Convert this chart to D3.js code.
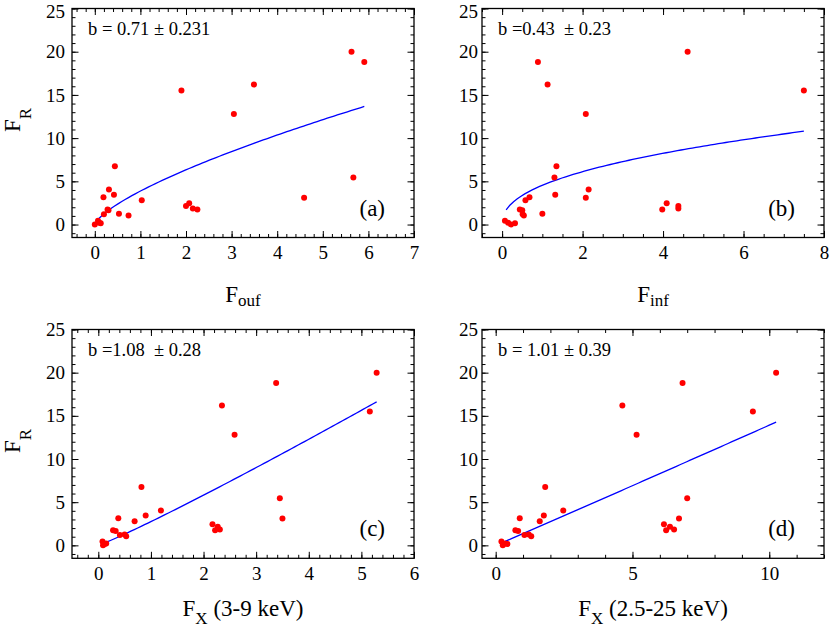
<!DOCTYPE html>
<html>
<head>
<meta charset="utf-8">
<script src="https://cdn.jsdelivr.net/npm/d3@7"></script>
<style>
  body { margin: 0; background: #fff; }
  svg { display: block; }
</style>
</head>
<body>
<div id="chart"></div>
<script>
// Radio flux of each source (same order in every panel)
const FR = [0.45, 0.0, 0.2, 0.15, 1.75, 1.65, 3.15, 1.2, 1.25, 1.05, 2.8, 3.45, 6.75, 4.05,
  16.2, 12.8, 2.45, 1.75, 2.15, 1.85, 3.1, 18.8, 5.45, 15.5, 20.0];

// X-axis fluxes per panel
const F_ouf = [0.07, 0.0, 0.1, 0.13, 0.28, 0.30, 0.19, 0.20, 0.53, 0.74, 1.03, 0.42, 0.44, 0.31,
  3.49, 3.05, 2.07, 2.25, 2.0, 2.15, 4.59, 5.91, 5.67, 1.90, 5.63];
const F_inf = [0.07, 0.22, 0.15, 0.32, 0.44, 0.50, 0.68, 0.51, 1.0, 0.54, 0.58, 1.32, 1.35, 2.15,
  1.13, 2.08, 4.09, 3.98, 4.38, 4.38, 2.08, 0.89, 1.30, 7.5, 4.61];
const F_x39 = [0.08, 0.09, 0.15, 0.12, 0.28, 0.33, 0.38, 0.41, 0.50, 0.53, 0.69, 0.90, 0.82, 1.19,
  2.35, 2.59, 2.17, 2.22, 2.27, 2.31, 3.50, 3.38, 3.45, 5.16, 5.29];
const F_x25 = [0.21, 0.26, 0.36, 0.43, 0.72, 0.82, 0.88, 1.05, 1.21, 1.30, 1.61, 1.76, 1.81, 2.47,
  4.63, 5.15, 6.15, 6.23, 6.37, 6.52, 6.70, 6.83, 7.0, 9.4, 10.25];

// Power-law fits  FR = norm * F^b
const fitB = [0.71, 0.43, 1.08, 1.01];
const fitNorm = [3.87, 4.54, 2.75, 1.36];
const fitFrom = [0.0, 0.1, 0.1, 0.2];
const fitTo = [5.91, 7.5, 5.29, 10.25];

const fitLabels = ['b = 0.71 \u00b1 0.231', 'b =0.43  \u00b1 0.23', 'b =1.08  \u00b1 0.28', 'b = 1.01 \u00b1 0.39'];
const panelTags = ['(a)', '(b)', '(c)', '(d)'];

const yTicks = [0, 5, 10, 15, 20, 25];
const xTicksA = [0, 1, 2, 3, 4, 5, 6, 7];
const xTicksB = [0, 2, 4, 6, 8];
const xTicksC = [0, 1, 2, 3, 4, 5, 6];
const xTicksD = [0, 5, 10];

// one quoted family name only, lists fall back to sans here
const FONT = '"Liberation Serif"';
const W = 830, H = 628;
const svg = d3.select('#chart').append('svg')
  .attr('width', W).attr('height', H);

const panels = [
  { x: F_ouf, box: [72, 414, 8.5, 237.5], xDomain: [-0.5, 7], xTicks: xTicksA, xMinor: 0.2, labPad: 7,
    xTitle: ['F', 'ouf', 4], titleGap: 64, yTitle: true },
  { x: F_inf, box: [482, 824, 8.5, 237.5], xDomain: [-0.5, 8], xTicks: xTicksB, xMinor: 0.5, labPad: 4,
    xTitle: ['F', 'inf', 4], titleGap: 64, yTitle: false },
  { x: F_x39, box: [72, 414, 329.5, 558.3], xDomain: [-0.5, 6], xTicks: xTicksC, xMinor: 0.2, labPad: 7,
    xTitle: ['F', 'X', 8, ' (3-9 keV)'], titleGap: 57.5, yTitle: true },
  { x: F_x25, box: [482, 824, 329.5, 558.3], xDomain: [-0.5, 12], xTicks: xTicksD, xMinor: 1, labPad: 4,
    xTitle: ['F', 'X', 8, ' (2.5-25 keV)'], titleGap: 57.5, yTitle: false }
];

function minorTicks(domain, step) {
  const out = [];
  const n0 = Math.ceil(domain[0] / step - 1e-9), n1 = Math.floor(domain[1] / step + 1e-9);
  for (let i = n0; i <= n1; i++) out.push(+(i * step).toFixed(4));
  return out;
}

function styleAxis(sel, fontSize) {
  sel.select('.domain').remove();
  sel.attr('font-family', null).attr('font-size', null);
  sel.selectAll('line').attr('stroke', '#000').attr('stroke-width', 1);
  sel.selectAll('text').style('font-family', FONT).style('font-size', fontSize + 'px').attr('fill', '#000');
}

function label(sel, size) {
  return sel.style('font-family', FONT).style('font-size', size + 'px').attr('fill', '#000');
}

panels.forEach((p, i) => {
  const [x0, x1, y0, y1] = p.box;
  const x = d3.scaleLinear().domain(p.xDomain).range([x0, x1]);
  const y = d3.scaleLinear().domain([-1.5, 25]).range([y1, y0]);
  const g = svg.append('g');

  const xMin = minorTicks(p.xDomain, p.xMinor);
  const yMin = minorTicks([-1.5, 25], 1);

  // minor ticks on all four sides
  g.append('g').attr('transform', `translate(0,${y1})`)
    .call(d3.axisBottom(x).tickValues(xMin).tickSizeInner(-3.5).tickSizeOuter(0).tickFormat(''))
    .call(s => styleAxis(s, 10));
  g.append('g').attr('transform', `translate(0,${y0})`)
    .call(d3.axisTop(x).tickValues(xMin).tickSizeInner(-3.5).tickSizeOuter(0).tickFormat(''))
    .call(s => styleAxis(s, 10));
  g.append('g').attr('transform', `translate(${x0},0)`)
    .call(d3.axisLeft(y).tickValues(yMin).tickSizeInner(-3.5).tickSizeOuter(0).tickFormat(''))
    .call(s => styleAxis(s, 10));
  g.append('g').attr('transform', `translate(${x1},0)`)
    .call(d3.axisRight(y).tickValues(yMin).tickSizeInner(-3.5).tickSizeOuter(0).tickFormat(''))
    .call(s => styleAxis(s, 10));

  // major ticks, labelled on bottom and left
  g.append('g').attr('transform', `translate(0,${y1})`)
    .call(d3.axisBottom(x).tickValues(p.xTicks).tickSizeInner(-6.5).tickSizeOuter(0).tickPadding(8).tickFormat(d3.format('d')))
    .call(s => styleAxis(s, 19));
  g.append('g').attr('transform', `translate(0,${y0})`)
    .call(d3.axisTop(x).tickValues(p.xTicks).tickSizeInner(-6.5).tickSizeOuter(0).tickFormat(''))
    .call(s => styleAxis(s, 10));
  const yAx = g.append('g').attr('transform', `translate(${x0},0)`)
    .call(d3.axisLeft(y).tickValues(yTicks).tickSizeInner(-6.5).tickSizeOuter(0).tickPadding(p.labPad).tickFormat(d3.format('d')))
    .call(s => styleAxis(s, 19));
  // keep the top label inside the page
  if (y0 < 20) yAx.selectAll('text').filter(d => d === 25).attr('dy', '0.45em');
  g.append('g').attr('transform', `translate(${x1},0)`)
    .call(d3.axisRight(y).tickValues(yTicks).tickSizeInner(-6.5).tickSizeOuter(0).tickFormat(''))
    .call(s => styleAxis(s, 10));

  // frame
  g.append('rect')
    .attr('x', x0).attr('y', y0).attr('width', x1 - x0).attr('height', y1 - y0)
    .attr('fill', 'none').attr('stroke', '#000').attr('stroke-width', 1.3);

  // fit curve
  const xs = d3.range(81).map(k => fitFrom[i] + (fitTo[i] - fitFrom[i]) * k / 80);
  g.append('path')
    .datum(xs)
    .attr('fill', 'none')
    .attr('stroke', '#0000ff')
    .attr('stroke-width', 1.3)
    .attr('d', d3.line().x(d => x(d)).y(d => y(fitNorm[i] * Math.pow(d, fitB[i]))));

  // data points
  g.append('g').selectAll('circle')
    .data(p.x.map((v, k) => [v, FR[k]]))
    .enter()
    .append('circle')
    .attr('cx', d => x(d[0]))
    .attr('cy', d => y(d[1]))
    .attr('r', 3)
    .attr('fill', '#ff0000');

  // fit label and panel tag
  g.append('text')
    .attr('x', x0 + 16).attr('y', y0 + 26)
    .style('white-space', 'pre')
    .call(s => label(s, 18.5))
    .text(fitLabels[i]);
  g.append('text')
    .attr('x', x1 - 29).attr('y', y1 - 22)
    .attr('text-anchor', 'end')
    .call(s => label(s, 23))
    .text(panelTags[i]);

  // x title
  const t = svg.append('text')
    .attr('x', (x0 + x1) / 2)
    .attr('y', y1 + p.titleGap)
    .attr('text-anchor', 'middle')
    .style('white-space', 'pre')
    .call(s => label(s, 23));
  t.append('tspan').text(p.xTitle[0]);
  t.append('tspan').attr('dy', p.xTitle[2]).style('font-size', '17px').text(p.xTitle[1]);
  if (p.xTitle[3]) t.append('tspan').attr('dy', -p.xTitle[2]).text(p.xTitle[3]);

  // y title
  if (p.yTitle) {
    const yt = svg.append('text')
      .attr('transform', `translate(20,${(y0 + y1) / 2 - 3}) rotate(-90)`)
      .attr('text-anchor', 'middle')
      .call(s => label(s, 23));
    yt.append('tspan').text('F');
    yt.append('tspan').attr('dy', 11).style('font-size', '17px').text('R');
  }
});
</script>
</body>
</html>
